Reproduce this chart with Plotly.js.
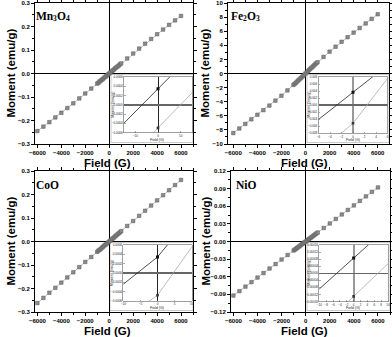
<!DOCTYPE html>
<html><head><meta charset="utf-8">
<script src="https://cdn.plot.ly/plotly-3.0.1.min.js"></script>
<style>html,body{margin:0;padding:0;background:#fff}#g{width:392px;height:337px}</style>
</head><body><div id="g"></div>
<script>
// ---- data ----
const field = [-6000,-5500,-5000,-4500,-4000,-3500,-3000,-2500,-2000,-1500,-1000,-900,-800,-700,-600,-500,-400,-300,-200,-100,0,100,200,300,400,500,600,700,800,900,1000,1500,2000,2500,3000,3500,4000,4500,5000,5500,6000];
const momentMn3O4 = [-0.245,-0.226,-0.207,-0.187,-0.167,-0.147,-0.127,-0.106,-0.085,-0.064,-0.043,-0.039,-0.034,-0.030,-0.026,-0.022,-0.017,-0.013,-0.009,-0.004,0.000,0.004,0.009,0.013,0.017,0.022,0.026,0.030,0.034,0.039,0.043,0.064,0.085,0.106,0.127,0.147,0.167,0.187,0.207,0.226,0.245];
const momentFe2O3 = [-8.45,-7.8,-7.15,-6.5,-5.85,-5.2,-4.55,-3.85,-3.15,-2.4,-1.62,-1.47,-1.31,-1.15,-0.99,-0.83,-0.67,-0.5,-0.34,-0.17,0.0,0.17,0.33,0.5,0.66,0.82,0.98,1.14,1.3,1.45,1.6,2.35,3.1,3.8,4.5,5.15,5.8,6.45,7.1,7.75,8.4];
const momentCoO = [-0.262,-0.240,-0.218,-0.197,-0.175,-0.153,-0.131,-0.109,-0.087,-0.066,-0.044,-0.039,-0.035,-0.031,-0.026,-0.022,-0.017,-0.013,-0.009,-0.004,0.000,0.004,0.009,0.013,0.017,0.022,0.026,0.031,0.035,0.039,0.044,0.066,0.087,0.109,0.131,0.153,0.175,0.197,0.218,0.240,0.262];
const momentNiO = [-0.092,-0.0845,-0.0768,-0.0691,-0.0614,-0.0537,-0.046,-0.0384,-0.0307,-0.023,-0.0153,-0.0138,-0.0123,-0.0107,-0.0092,-0.0077,-0.0061,-0.0046,-0.0031,-0.0015,0.0,0.0015,0.0031,0.0046,0.0061,0.0077,0.0092,0.0107,0.0123,0.0138,0.0153,0.023,0.0307,0.0384,0.046,0.0537,0.0614,0.0691,0.0768,0.0845,0.092];

// inset (low-field) branches
const insetMnField = [-30,0,30];
const insetMnUp = [-0.00114,0.000345,0.00183];
const insetMnDown = [-0.00201,-0.000499,0.00101];
const insetFeField = [-12,0,12];
const insetFeUp = [-0.0118,0.00365,0.0191];
const insetFeDown = [-0.0218,-0.00515,0.0203];
const insetCoField = [-20,0,20];
const insetCoUp = [-0.000823,0.000343,0.00212];
const insetCoDown = [-0.00152,-0.000476,0.00158];
const insetNiField = [-20,0,20];
const insetNiUp = [-0.000264,0.0000864,0.000436];
const insetNiDown = [-0.000501,-0.000131,0.000239];

// sample labels, split into (text, is-subscript) pieces
const labelMn3O4 = [['Mn',0],['3',1],['O',0],['4',1]];
const labelFe2O3 = [['Fe',0],['2',1],['O',0],['3',1]];
const labelCoO = [['CoO',0]];
const labelNiO = [['NiO',0]];

// ---- layout helpers (pixel -> paper) ----
const W=392,H=337;
const px=v=>v/W, py=v=>1-v/H;
const dx=(a,b)=>[px(a),px(b)];
const dy=(top,bot)=>[py(bot),py(top)];

const tickFont={family:'Liberation Sans, Arial, sans-serif',size:6,color:'#000',weight:'bold'};
const insetFont={family:'Liberation Sans, Arial, sans-serif',size:3,color:'#222'};

function mainAxisX(dom,range,anchor){
  return {domain:dom,range:range,anchor:anchor,showline:true,linecolor:'#000',linewidth:1,mirror:'allticks',
    ticks:'outside',ticklen:3,tickwidth:1,tickcolor:'#000',dtick:2000,tick0:0,tickfont:tickFont,
    showgrid:false,zeroline:true,zerolinecolor:'#000',zerolinewidth:1,
    minor:{dtick:1000,ticks:'outside',ticklen:2,tickcolor:'#000',showgrid:false}};
}
function mainAxisY(dom,range,dtick,fmt,anchor){
  return {domain:dom,range:range,anchor:anchor,showline:true,linecolor:'#000',linewidth:1,mirror:'allticks',
    ticks:'outside',ticklen:3,tickwidth:1,tickcolor:'#000',dtick:dtick,tick0:0,tickformat:fmt,tickfont:tickFont,
    showgrid:false,zeroline:true,zerolinecolor:'#000',zerolinewidth:1,
    minor:{dtick:dtick/2,ticks:'outside',ticklen:2,tickcolor:'#000',showgrid:false}};
}
function insetAxisX(dom,range,dtick,anchor,zc,zw){
  return {domain:dom,range:range,anchor:anchor,showline:true,linecolor:'#777',linewidth:0.7,mirror:true,
    ticks:'inside',ticklen:1.5,tickwidth:0.5,tickcolor:'#555',dtick:dtick,tick0:0,tickfont:insetFont,ticklabelstandoff:0,
    showgrid:false,zeroline:true,zerolinecolor:zc,zerolinewidth:zw};
}
function insetAxisY(dom,range,dtick,fmt,anchor){
  return {domain:dom,range:range,anchor:anchor,showline:true,linecolor:'#777',linewidth:0.7,mirror:true,
    ticks:'inside',ticklen:1.5,tickwidth:0.5,tickcolor:'#555',dtick:dtick,tick0:0,tickformat:fmt,tickfont:insetFont,
    showgrid:false,zeroline:true,zerolinecolor:'#666',zerolinewidth:1.5};
}

const mainMarker={symbol:'square',size:3.5,color:'#8c8c8c',line:{color:'#555',width:0.5}};
const mainLine={color:'#999',width:0.7};
function mainTrace(y,xa,ya){
  return {x:field,y:y,xaxis:xa,yaxis:ya,mode:'lines+markers',marker:mainMarker,line:mainLine,hoverinfo:'skip'};
}
function insetTraces(x,up,down,xa,ya){
  return [
    {x:x,y:up,xaxis:xa,yaxis:ya,mode:'lines+markers',line:{color:'#222',width:0.8},marker:{symbol:'square',size:3,color:'#111'},hoverinfo:'skip'},
    {x:x,y:down,xaxis:xa,yaxis:ya,mode:'lines+markers',line:{color:'#aaa',width:0.8},marker:{symbol:'square',size:2.6,color:'#333'},hoverinfo:'skip'}
  ];
}

const data=[
  mainTrace(momentMn3O4,'x','y'),
  mainTrace(momentFe2O3,'x2','y2'),
  mainTrace(momentCoO,'x3','y3'),
  mainTrace(momentNiO,'x4','y4'),
  ...insetTraces(insetMnField,insetMnUp,insetMnDown,'x5','y5'),
  ...insetTraces(insetFeField,insetFeUp,insetFeDown,'x6','y6'),
  ...insetTraces(insetCoField,insetCoUp,insetCoDown,'x7','y7'),
  ...insetTraces(insetNiField,insetNiUp,insetNiDown,'x8','y8')
];

const titleFont={family:'Liberation Sans, Arial, sans-serif',size:11.5,color:'#000',weight:'bold'};
const LBL=11.5, SUB=7.5;
const labelFont={family:'Liberation Serif, Times New Roman, serif',size:LBL,color:'#000',weight:'bold'};
const subFont={family:'Liberation Serif, Times New Roman, serif',size:SUB,color:'#000',weight:'bold'};
const insetTitleFont={family:'Liberation Sans, Arial, sans-serif',size:3.6,color:'#222'};

function ann(text,x,y,font,opts){
  return Object.assign({text:text,x:px(x),y:py(y),xref:'paper',yref:'paper',showarrow:false,font:font,xanchor:'center',yanchor:'middle'},opts||{});
}
// approximate advance widths (em) for Times bold glyphs used
const adv={M:0.944,n:0.556,F:0.611,e:0.444,O:0.778,C:0.722,o:0.5,N:0.722,i:0.278,'2':0.5,'3':0.5,'4':0.5};
function formula(pieces,x0,yc){
  const out=[]; let x=x0;
  pieces.forEach(([t,s])=>{
    const sz=s?SUB:LBL;
    out.push(ann(t,x,s?yc+2.2:yc,s?subFont:labelFont,{xanchor:'left',borderpad:0}));
    let w=0; for(const c of t) w+=(adv[c]||0.6)*sz; x+=w;
  });
  return out;
}

const annotations=[
  ...formula(labelMn3O4,35,16),
  ...formula(labelFe2O3,230,16),
  ...formula(labelCoO,35,185),
  ...formula(labelNiO,235,185),
  ann('Moment (emu/g)',10,73.5,titleFont,{textangle:-90}),
  ann('Moment (emu/g)',204,73.5,titleFont,{textangle:-90}),
  ann('Moment (emu/g)',10,241.5,titleFont,{textangle:-90}),
  ann('Moment (emu/g)',205,241.5,titleFont,{textangle:-90}),
  ann('Field (G)',108,162.5,titleFont),
  ann('Field (G)',304,162.5,titleFont),
  ann('Field (G)',108,330.5,titleFont),
  ann('Field (G)',304,330.5,titleFont),
  ann('Field (G)',157,139.5,insetTitleFont),
  ann('Field (G)',353,140,insetTitleFont),
  ann('Field (G)',157,308,insetTitleFont),
  ann('Field (G)',353,308,insetTitleFont),
  ann('Moment (emu/g)',112.8,105,insetTitleFont,{textangle:-90}),
  ann('Moment (emu/g)',308.8,105,insetTitleFont,{textangle:-90}),
  ann('Moment (emu/g)',112.3,273,insetTitleFont,{textangle:-90}),
  ann('Moment (emu/g)',308.8,273,insetTitleFont,{textangle:-90})
];

function box(x0,x1,y0,y1){
  return {type:'rect',xref:'paper',yref:'paper',x0:px(x0),x1:px(x1),y0:py(y1),y1:py(y0),
    fillcolor:'#fff',line:{color:'#bbb',width:0.8},layer:'below'};
}

const layout={
  width:W,height:H,autosize:false,margin:{l:0,r:0,t:0,b:0},
  paper_bgcolor:'#fff',plot_bgcolor:'rgba(0,0,0,0)',showlegend:false,
  xaxis: mainAxisX(dx(35,193),[-6200,7000],'y'),
  yaxis: mainAxisY(dy(3,144),[-0.3,0.3],0.1,'.1f','x'),
  xaxis2: mainAxisX(dx(228,389),[-6440,6940],'y2'),
  yaxis2: mainAxisY(dy(3,144),[-10,10],2,'','x2'),
  xaxis3: mainAxisX(dx(35,193),[-6200,7000],'y3'),
  yaxis3: mainAxisY(dy(171,312),[-0.3,0.3],0.1,'.1f','x3'),
  xaxis4: mainAxisX(dx(231,390),[-6200,7000],'y4'),
  yaxis4: mainAxisY(dy(171,312),[-0.12,0.12],0.03,'.2f','x4'),
  xaxis5: insetAxisX(dx(124,192),[-15,15],10,'y5','#222',1),
  yaxis5: insetAxisY(dy(77,132.5),[-0.0006,0.0006],0.0002,'.4f','x5'),
  xaxis6: insetAxisX(dx(318.5,387.5),[-6,6],2,'y6','#999',1.8),
  yaxis6: insetAxisY(dy(77,133.3),[-0.008,0.008],0.002,'.3f','x6'),
  xaxis7: insetAxisX(dx(123.3,191.7),[-10,10],5,'y7','#222',1),
  yaxis7: insetAxisY(dy(245,301),[-0.0006,0.0006],0.0002,'.4f','x7'),
  xaxis8: insetAxisX(dx(319.3,388),[-10,10],2,'y8','#999',1.8),
  yaxis8: insetAxisY(dy(245,301.5),[-0.00016,0.00016],0.00004,'.5f','x8'),
  shapes:[box(111,193,74.5,142.5),box(307,389,74.5,142.5),box(110,193,242.5,310.5),box(307,390,242.5,310.5)],
  annotations:annotations
};
Plotly.newPlot('g',data,layout,{staticPlot:true,displayModeBar:false});
</script>
</body></html>
